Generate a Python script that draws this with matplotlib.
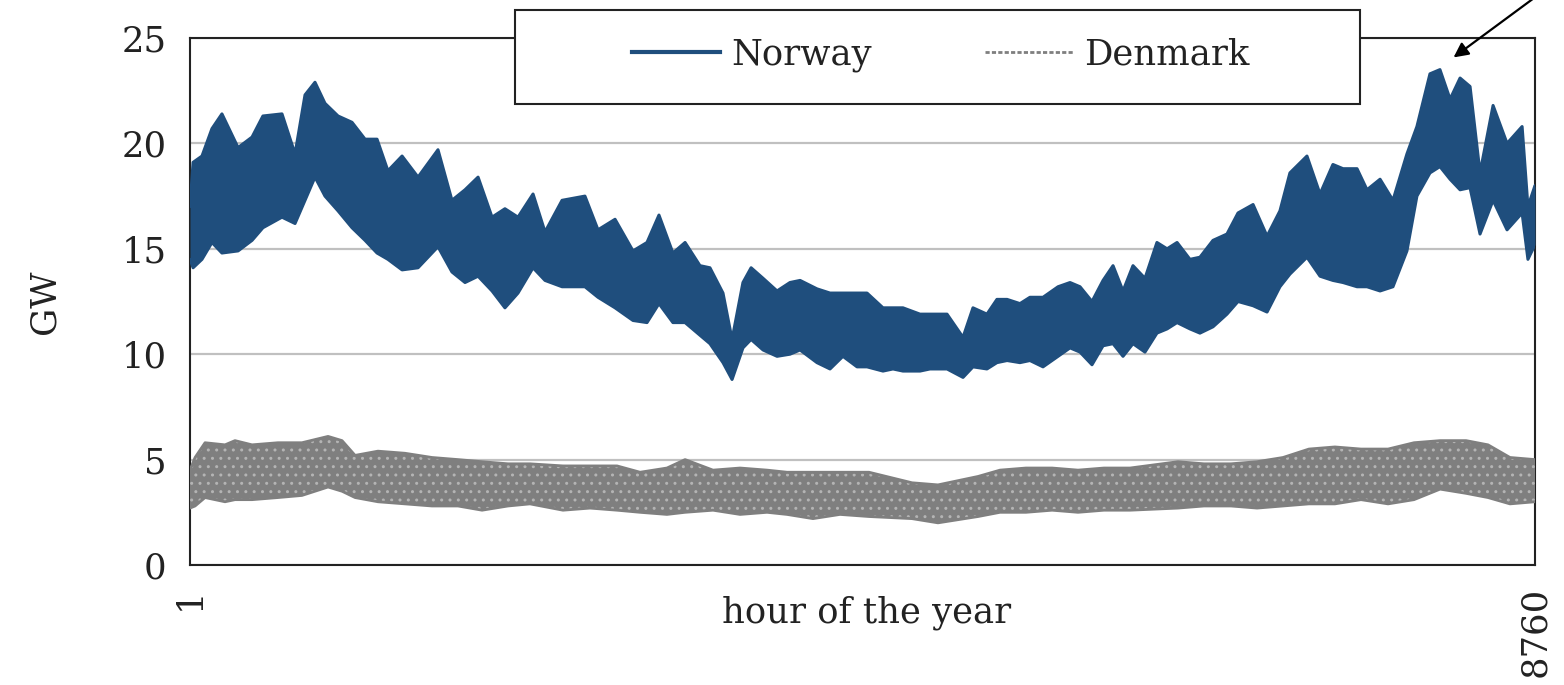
import matplotlib
matplotlib.use("Agg")
import matplotlib.pyplot as plt
from matplotlib.lines import Line2D
from matplotlib.patches import Rectangle

# ---------------- data (envelope of hourly load, GW) ----------------
norway_hours = [1, 21, 79, 144, 209, 314, 405, 476, 600, 685, 750, 815, 880, 965, 1056, 1141,
                1219, 1290, 1382, 1486, 1616, 1707, 1792, 1877, 1968, 2052, 2137, 2235, 2313,
                2424, 2573, 2658, 2769, 2886, 2977, 3055, 3146, 3225, 3322, 3387, 3472, 3531,
                3602, 3655, 3733, 3824, 3908, 3974, 4084, 4169, 4253, 4345, 4410, 4514, 4579,
                4644, 4755, 4820, 4931, 5035, 5100, 5191, 5256, 5322, 5406, 5471, 5556, 5654,
                5732, 5797, 5875, 5947, 6012, 6077, 6142, 6220, 6298, 6364, 6429, 6513, 6578,
                6663, 6754, 6826, 6924, 7015, 7099, 7164, 7275, 7360, 7444, 7510, 7601, 7666,
                7751, 7835, 7926, 7991, 8076, 8141, 8207, 8272, 8337, 8402, 8487, 8578, 8676,
                8714, 8760]
norway_high = [17.0, 19.1, 19.4, 20.7, 21.4, 19.8, 20.3, 21.3, 21.4, 19.5, 22.3, 22.9, 21.9, 21.3,
               21.0, 20.2, 20.2, 18.7, 19.4, 18.4, 19.7, 17.3, 17.8, 18.4, 16.5, 16.9, 16.5, 17.6,
               15.8, 17.3, 17.5, 15.9, 16.4, 14.9, 15.3, 16.6, 14.8, 15.3, 14.2, 14.1, 12.9, 10.7,
               13.4, 14.1, 13.6, 13.0, 13.4, 13.5, 13.1, 12.9, 12.9, 12.9, 12.9, 12.2, 12.2, 12.2,
               11.9, 11.9, 11.9, 10.8, 12.2, 11.9, 12.6, 12.6, 12.4, 12.7, 12.7, 13.2, 13.4, 13.2,
               12.5, 13.5, 14.2, 13.0, 14.2, 13.6, 15.3, 15.0, 15.3, 14.5, 14.6, 15.4, 15.7, 16.7,
               17.1, 15.6, 16.8, 18.6, 19.4, 17.6, 19.0, 18.8, 18.8, 17.8, 18.3, 17.3, 19.5, 20.8,
               23.3, 23.5, 22.1, 23.1, 22.7, 18.6, 21.8, 20.0, 20.8, 17.0, 18.0]
norway_low = [14.5, 14.1, 14.5, 15.3, 14.8, 14.9, 15.4, 16.0, 16.5, 16.2, 17.3, 18.4, 17.5, 16.8,
              16.0, 15.4, 14.8, 14.5, 14.0, 14.1, 15.1, 13.9, 13.4, 13.7, 13.0, 12.2, 12.9, 14.1,
              13.5, 13.2, 13.2, 12.7, 12.2, 11.6, 11.5, 12.4, 11.5, 11.5, 10.9, 10.5, 9.6, 8.8,
              10.3, 10.7, 10.2, 9.9, 10.0, 10.2, 9.6, 9.3, 9.9, 9.4, 9.4, 9.2, 9.3, 9.2,
              9.2, 9.3, 9.3, 8.9, 9.4, 9.3, 9.6, 9.7, 9.6, 9.7, 9.4, 9.9, 10.3, 10.1,
              9.5, 10.4, 10.5, 9.9, 10.5, 10.1, 11.0, 11.2, 11.5, 11.2, 11.0, 11.3, 11.9, 12.5,
              12.3, 12.0, 13.2, 13.8, 14.6, 13.7, 13.5, 13.4, 13.2, 13.2, 13.0, 13.2, 14.9, 17.5,
              18.6, 18.9, 18.3, 17.8, 17.9, 15.7, 17.3, 15.9, 16.7, 14.5, 15.2]

denmark_hours = [1, 34, 99, 229, 294, 405, 574, 730, 900, 991, 1076, 1225, 1401, 1577, 1746,
                 1903, 2072, 2215, 2430, 2606, 2782, 2932, 3107, 3225, 3407, 3583, 3759, 3889,
                 4058, 4234, 4423, 4703, 4872, 5133, 5276, 5445, 5615, 5784, 5953, 6123, 6435,
                 6604, 6780, 6950, 7119, 7288, 7457, 7627, 7803, 7972, 8142, 8311, 8454, 8597,
                 8760]
denmark_high = [4.5, 5.1, 5.8, 5.7, 5.9, 5.7, 5.8, 5.8, 6.1, 5.9, 5.2, 5.4, 5.3, 5.1, 5.0,
                4.9, 4.8, 4.8, 4.7, 4.7, 4.7, 4.4, 4.6, 5.0, 4.5, 4.6, 4.5, 4.4,
                4.4, 4.4, 4.4, 3.9, 3.8, 4.2, 4.5, 4.6, 4.6, 4.5, 4.6, 4.6, 4.9,
                4.8, 4.8, 4.9, 5.1, 5.5, 5.6, 5.5, 5.5, 5.8, 5.9, 5.9, 5.7, 5.1,
                5.0]
denmark_low = [2.7, 2.8, 3.2, 3.0, 3.1, 3.1, 3.2, 3.3, 3.7, 3.5, 3.2, 3.0, 2.9, 2.8, 2.8,
               2.6, 2.8, 2.9, 2.6, 2.7, 2.6, 2.5, 2.4, 2.5, 2.6, 2.4, 2.5, 2.4,
               2.2, 2.4, 2.3, 2.2, 2.0, 2.3, 2.5, 2.5, 2.6, 2.5, 2.6, 2.6, 2.7,
               2.8, 2.8, 2.7, 2.8, 2.9, 2.9, 3.1, 2.9, 3.1, 3.6, 3.4, 3.2, 2.9,
               3.0]

series_names = ["Norway", "Denmark"]
y_ticks = [0, 5, 10, 15, 20, 25]
x_ticks = [1, 8760]
x_label = "hour of the year"
y_label = "GW"

# ---------------- style ----------------
NOR = "#1f4e7d"
DEN = "#7f7f7f"
TXT = "#222222"
FS = 25.5
plt.rcParams["font.family"] = ["DejaVu Serif", "DejaVu Sans"]
plt.rcParams["hatch.linewidth"] = 1.0

fig = plt.figure(figsize=(15.64, 6.85), dpi=100)
ax = fig.add_axes([190 / 1564, 1 - 565 / 685, (1535 - 190) / 1564, (565 - 38) / 685])

# Norway band
ax.fill_between(norway_hours, norway_low, norway_high, color=NOR, linewidth=0, zorder=3)
ax.plot(norway_hours, norway_high, color=NOR, lw=2.2, solid_capstyle="round", zorder=3)
ax.plot(norway_hours, norway_low, color=NOR, lw=2.2, solid_capstyle="round", zorder=3)

# Denmark band (dashed hourly trace rendered as a speckled grey band)
ax.fill_between(denmark_hours, denmark_low, denmark_high, facecolor=DEN, edgecolor="#b4b4b4",
                hatch="..", linewidth=0, zorder=3)
ax.plot(denmark_hours, denmark_high, color=DEN, lw=2.0, zorder=3)
ax.plot(denmark_hours, denmark_low, color=DEN, lw=2.0, zorder=3)

ax.set_xlim(1, 8760)
ax.set_ylim(0, 25)
ax.set_yticks(y_ticks)
ax.set_yticklabels([str(t) for t in y_ticks], fontsize=FS, color=TXT)
ax.set_xticks(x_ticks)
ax.set_xticklabels([str(t) for t in x_ticks], fontsize=FS, color=TXT, rotation=90)
ax.tick_params(axis="both", length=0)
ax.tick_params(axis="y", pad=17)
ax.tick_params(axis="x", pad=16)
ax.grid(axis="y", color="#c0c0c0", lw=1.6, zorder=1)
ax.set_axisbelow(True)
for sp in ax.spines.values():
    sp.set_color("#222222")
    sp.set_linewidth(1.5)

ax.set_xlabel(x_label, fontsize=FS, color=TXT)
ax.xaxis.set_label_coords(0.503, -0.058)
ax.set_ylabel(y_label, fontsize=FS, color=TXT, labelpad=43)

# legend box (sits above the plot frame)
x0, x1 = 515 / 1564, 1360 / 1564
y0, y1 = 1 - 104 / 685, 1 - 10 / 685
fig.patches.append(Rectangle((x0, y0), x1 - x0, y1 - y0, transform=fig.transFigure,
                             facecolor="white", edgecolor="#222222", lw=1.5, zorder=5))
handles = [Line2D([], [], color=NOR, lw=3),
           Line2D([], [], color=DEN, lw=2, linestyle=(0, (1.5, 0.8)))]
leg = fig.legend(handles, series_names, loc="center", ncol=2,
                 bbox_to_anchor=((x0 + x1) / 2 + 0.002, (y0 + y1) / 2 + 0.004),
                 bbox_transform=fig.transFigure, frameon=False, fontsize=FS,
                 handlelength=2.5, handletextpad=0.3, columnspacing=3.2)
leg.set_zorder(6)
for t in leg.get_texts():
    t.set_color(TXT)

# arrow pointing at the winter peak
ax.annotate("", xy=(8215, 24.0), xytext=(8810, 27.2), xycoords="data", textcoords="data",
            annotation_clip=False,
            arrowprops=dict(arrowstyle="-|>", color="black", lw=1.6, mutation_scale=22))

fig.savefig("out.png", dpi=100)
